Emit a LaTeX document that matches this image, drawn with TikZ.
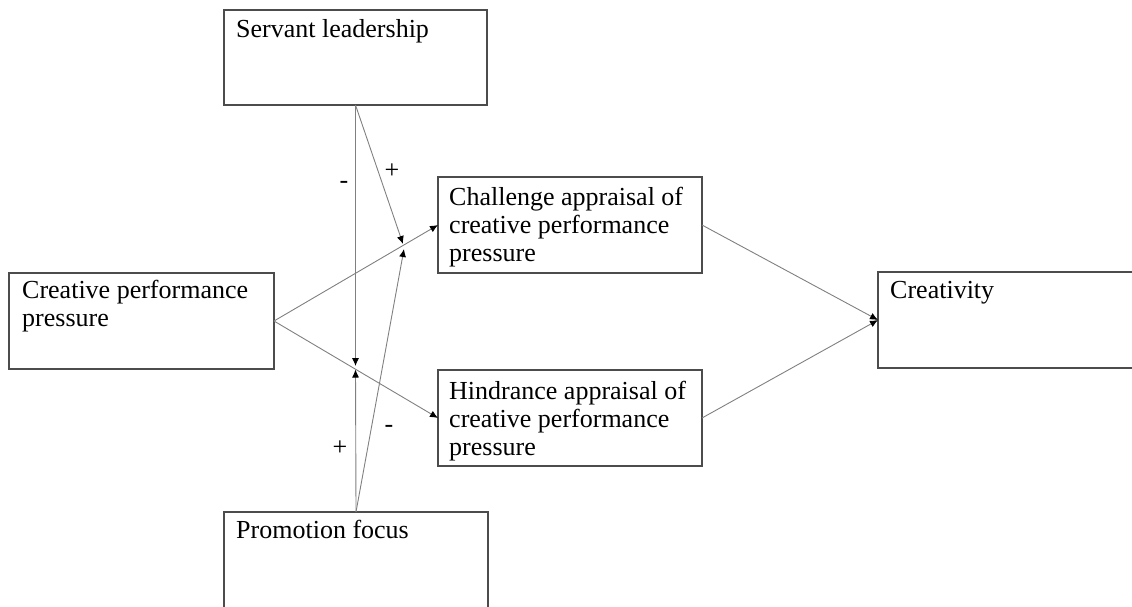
\documentclass[tikz,border=0pt]{standalone}
\usepackage{fontspec}
\setmainfont{Liberation Serif}
\usetikzlibrary{arrows.meta}
\begin{document}
\begin{tikzpicture}[x=1pt,y=-1pt,
  box/.style={draw=black!70, line width=1.4pt, inner sep=0pt, outer sep=0pt, minimum width=#1},
  txt/.style={anchor=base west, align=left, inner sep=0pt, font=\fontsize{26}{28}\selectfont},
  conn/.style={draw=black!50, line width=0.9pt, -{Latex[length=8pt,width=7pt,color=black]}},
  sign/.style={inner sep=0pt, font=\fontsize{26}{28}\selectfont}]
\useasboundingbox (0,0) rectangle (1132,606);
\clip (0,0) rectangle (1132,606);
% boxes
\node[box=263pt, minimum height=95pt, anchor=north west] (sl) at (224,10) {};
\node[box=264pt, minimum height=110pt, anchor=north west] (pf) at (224,512) {};
\node[box=265pt, minimum height=96pt, anchor=north west] (cpp) at (9,273) {};
\node[box=264pt, minimum height=96pt, anchor=north west] (ch) at (438,177) {};
\node[box=264pt, minimum height=96pt, anchor=north west] (hi) at (438,370) {};
\node[box=270pt, minimum height=96pt, anchor=north west] (cr) at (878,272) {};
% texts (anchor = baseline of last line)
\node[txt] (tsl) at (236,37) {Servant leadership};
\node[txt] (tpf) at (236,538) {Promotion focus};
\node[txt] (tcpp) at (22,326) {Creative performance\\pressure};
\node[txt] (tch) at (449,261) {Challenge appraisal of\\creative performance\\pressure};
\node[txt] (thi) at (449,455) {Hindrance appraisal of\\creative performance\\pressure};
\node[txt] (tcr) at (890,298) {Creativity};
% junction points on the paths
\coordinate (j1) at (403,244);
\coordinate (j1b) at (404,249);
\coordinate (j2) at (355.5,366);
\coordinate (j2b) at (355.5,369.5);
% connectors
\draw[conn] (cpp.east) -- (ch.west);
\draw[conn] (cpp.east) -- (hi.west);
\draw[conn] (ch.east) -- (cr.west);
\draw[conn] (hi.east) -- (cr.west);
\draw[conn] (sl.south) -- (j2);
\draw[conn] (pf.north) -- (j2b);
\draw[conn] (sl.south) -- (j1);
\draw[conn] (pf.north) -- (j1b);
% signs
\node[sign] (s1) at (392,171) {+};
\node[sign] (s2) at (344,185) {-};
\node[sign] (s3) at (340,448) {+};
\node[sign] (s4) at (389,429) {-};
\end{tikzpicture}
\end{document}
